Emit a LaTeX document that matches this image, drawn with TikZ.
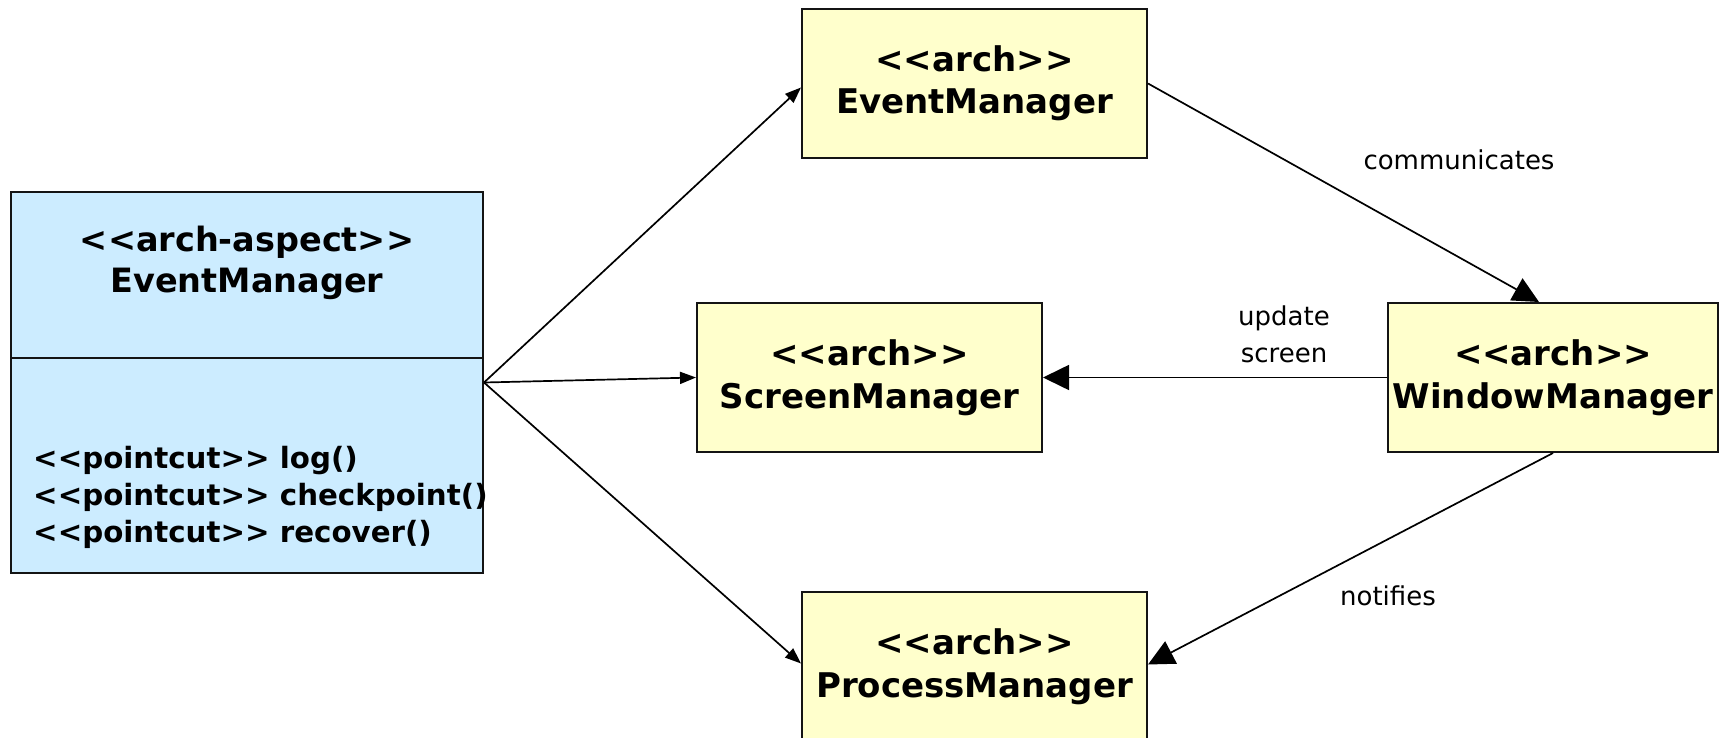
\documentclass[tikz,border=0pt]{standalone}
\usepackage{fontspec}
\setmainfont{DejaVu Sans}[Ligatures=TeXOff]
\usetikzlibrary{arrows.meta}
\definecolor{aspectfill}{RGB}{204,236,255}
\definecolor{archfill}{RGB}{255,255,204}
\definecolor{edge}{RGB}{20,20,20}
% doubled angle brackets, kept apart so they never merge into guillemets
\newcommand{\dlt}{<\kern0pt<}
\newcommand{\dgt}{>\kern0pt>}
\tikzset{
  archbox/.style={draw=edge, line width=2pt, fill=archfill, inner sep=0pt,
    minimum width=345pt, minimum height=149pt, align=center,
    font=\fontsize{34pt}{42.5pt}\selectfont\bfseries},
  aspectbox/.style={draw=edge, line width=2pt, fill=aspectfill, inner sep=0pt,
    minimum width=472pt, minimum height=381pt},
  dep/.style={draw=black, line width=1.7pt, -{Triangle[length=16pt,width=12pt]}},
  assoc/.style={draw=black, line width=1.7pt, -{Triangle[length=26pt,width=25pt]}},
  lbl/.style={align=center, inner sep=0pt, font=\fontsize{26pt}{37pt}\selectfont},
}
\begin{document}
\begin{tikzpicture}[x=1pt, y=-1pt]
\useasboundingbox (0,0) rectangle (1720,738);
\clip (0,0) rectangle (1720,738);
\fill[white] (0,0) rectangle (1720,738);

% aspect class with its two compartments
\node[aspectbox] (aspect) at (247,382.5) {};
\draw[edge, line width=1.6pt] (11,358) -- (483,358);
\node[align=center, inner sep=0pt, font=\fontsize{33.5pt}{41pt}\selectfont\bfseries]
  (aspecttitle) at (247,263) {\dlt arch-aspect\dgt\\EventManager};
\node[align=left, anchor=west, inner sep=0pt, font=\fontsize{29.3pt}{37pt}\selectfont\bfseries]
  (pointcuts) at (33,497) {\dlt pointcut\dgt{} log()\\\dlt pointcut\dgt{} checkpoint()\\\dlt pointcut\dgt{} recover()};

% architectural components
\node[archbox] (em) at (974.5,83.5) {\dlt arch\dgt\\EventManager};
\node[archbox] (sm) at (869.5,377.5) {\dlt arch\dgt\\ScreenManager};
\node[archbox, minimum width=330pt] (wm) at (1553,377.5) {\dlt arch\dgt\\WindowManager};
\node[archbox] (pm) at (974.5,666.5) {\dlt arch\dgt\\ProcessManager};

% crosscutting dependencies from the aspect
\draw[dep] (aspect.east) -- ([yshift=-4pt]em.west);
\draw[dep] (aspect.east) -- (sm.west);
\draw[dep] (aspect.east) -- ([yshift=3pt]pm.west);

% associations between components
\draw[assoc] (em.east) -- ([xshift=-14pt]wm.north);
\draw[assoc] (wm.west) -- (sm.east);
\draw[assoc] (wm.south) -- ([yshift=2pt]pm.east);

% association labels
\node[lbl] (lcomm) at (1459,160) {communicates};
\node[lbl] (lupd) at (1284,334) {update\\screen};
\node[lbl] (lnot) at (1388,596) {notifies};
\end{tikzpicture}
\end{document}
